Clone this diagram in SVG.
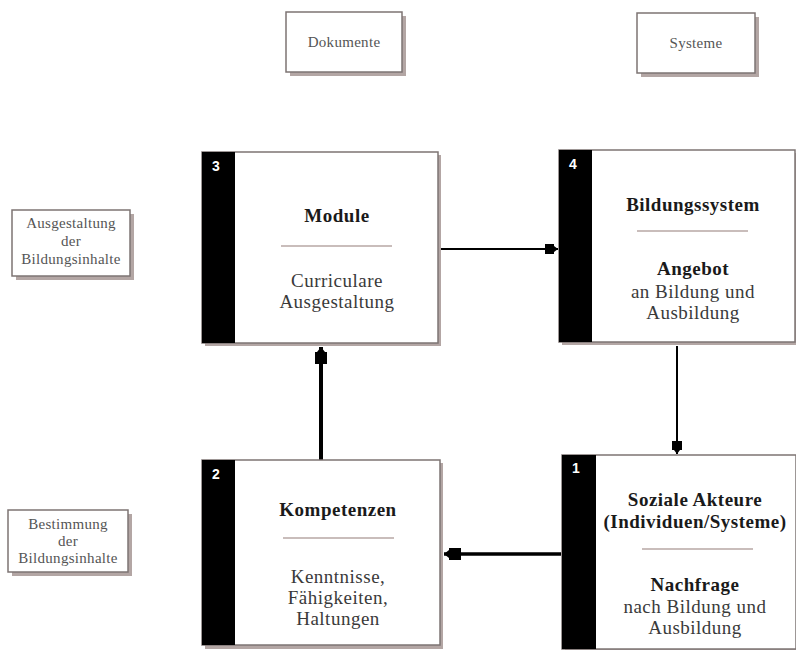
<svg xmlns="http://www.w3.org/2000/svg" width="796" height="650" viewBox="0 0 796 650">
<style>
.shadow{fill:#b3a6a4}
.box{fill:#fff;stroke:#7d7473;stroke-width:1.5}
.bar{fill:#000}
.num{font-family:'Liberation Sans',Arial,sans-serif;font-weight:bold;font-size:14px;fill:#fff}
.title{font-family:'Liberation Serif','DejaVu Serif',serif;font-weight:bold;font-size:19px;letter-spacing:0.5px;fill:#1a1a1a;text-anchor:middle}
.body{font-family:'Liberation Serif','DejaVu Serif',serif;font-size:19px;letter-spacing:0.5px;fill:#3a3a3a;text-anchor:middle}
.small{font-family:'Liberation Serif','DejaVu Serif',serif;font-size:15px;letter-spacing:0.3px;fill:#555;text-anchor:middle}
.div{stroke:#c9bdbb;stroke-width:2}
.conn{stroke:#000;fill:none}
</style>
<defs>
<marker id="ah" viewBox="0 0 14 14" refX="13" refY="7" markerWidth="14" markerHeight="14" markerUnits="userSpaceOnUse" orient="auto">
<path d="M0,2 L9,2 L9,4 L13,7 L9,10 L9,12 L0,12 Z" fill="#000"/>
</marker>
<marker id="ah2" viewBox="0 0 18 16" refX="17" refY="8" markerWidth="18" markerHeight="16" markerUnits="userSpaceOnUse" orient="auto">
<path d="M0,2 L12,2 L12,4 L17,8 L12,12 L12,14 L0,14 Z" fill="#000"/>
</marker>
</defs>

<g id="dokumente">
<rect class="shadow" x="290" y="16" width="116" height="60"/>
<rect class="box" x="286" y="12" width="116" height="60"/>
<text class="small" x="344" y="47">Dokumente</text>
</g>
<g id="systeme">
<rect class="shadow" x="641" y="17" width="118" height="60"/>
<rect class="box" x="637" y="13" width="118" height="60"/>
<text class="small" x="696" y="48">Systeme</text>
</g>
<g id="ausgestaltung">
<rect class="shadow" x="16" y="214" width="118" height="66"/>
<rect class="box" x="12" y="210" width="118" height="66"/>
<text class="small" x="71" y="228">Ausgestaltung</text>
<text class="small" x="71" y="246">der</text>
<text class="small" x="71" y="264">Bildungsinhalte</text>
</g>
<g id="bestimmung">
<rect class="shadow" x="12" y="514" width="120" height="62"/>
<rect class="box" x="8" y="510" width="120" height="62"/>
<text class="small" x="68" y="529">Bestimmung</text>
<text class="small" x="68" y="546">der</text>
<text class="small" x="68" y="563">Bildungsinhalte</text>
</g>

<g id="connectors">
<line class="conn" x1="440" y1="249" x2="558" y2="249" stroke-width="2" marker-end="url(#ah)"/>
<line class="conn" x1="677" y1="346" x2="677" y2="454" stroke-width="2" marker-end="url(#ah)"/>
<line class="conn" x1="561" y1="554" x2="444" y2="554" stroke-width="3.5" marker-end="url(#ah2)"/>
<line class="conn" x1="321" y1="460" x2="321" y2="347" stroke-width="4" marker-end="url(#ah2)"/>
</g>

<g id="node3">
<rect class="shadow" x="205" y="155" width="236" height="191"/>
<rect class="box" x="202" y="152" width="236" height="191"/>
<rect class="bar" x="202" y="152" width="33" height="191"/>
<text class="num" x="212" y="171">3</text>
<text class="title" x="337" y="222">Module</text>
<line class="div" x1="281" y1="246" x2="392" y2="246"/>
<text class="body" x="337" y="287">Curriculare</text>
<text class="body" x="337" y="308">Ausgestaltung</text>
</g>
<g id="node4">
<rect class="shadow" x="562" y="153" width="236" height="192"/>
<rect class="box" x="559" y="150" width="236" height="192"/>
<rect class="bar" x="559" y="150" width="33" height="192"/>
<text class="num" x="569" y="169">4</text>
<text class="title" x="693" y="211">Bildungssystem</text>
<line class="div" x1="637" y1="231" x2="748" y2="231"/>
<text class="title" x="693" y="275">Angebot</text>
<text class="body" x="693" y="298">an Bildung und</text>
<text class="body" x="693" y="319">Ausbildung</text>
</g>
<g id="node2">
<rect class="shadow" x="205" y="463" width="238" height="186"/>
<rect class="box" x="202" y="460" width="238" height="185"/>
<rect class="bar" x="202" y="460" width="33" height="185"/>
<text class="num" x="212" y="479">2</text>
<text class="title" x="338" y="516">Kompetenzen</text>
<line class="div" x1="283" y1="538" x2="394" y2="538"/>
<text class="body" x="338" y="583">Kenntnisse,</text>
<text class="body" x="338" y="604">Fähigkeiten,</text>
<text class="body" x="338" y="625">Haltungen</text>
</g>
<g id="node1">
<rect class="shadow" x="565" y="458" width="236" height="194"/>
<rect class="box" x="562" y="455" width="234" height="194"/>
<rect class="bar" x="562" y="455" width="34" height="194"/>
<text class="num" x="572" y="473">1</text>
<text class="title" x="695" y="506">Soziale Akteure</text>
<text class="title" x="695" y="528">(Individuen/Systeme)</text>
<line class="div" x1="642" y1="549" x2="753" y2="549"/>
<text class="title" x="695" y="591">Nachfrage</text>
<text class="body" x="695" y="613">nach Bildung und</text>
<text class="body" x="695" y="634">Ausbildung</text>
</g>
</svg>
